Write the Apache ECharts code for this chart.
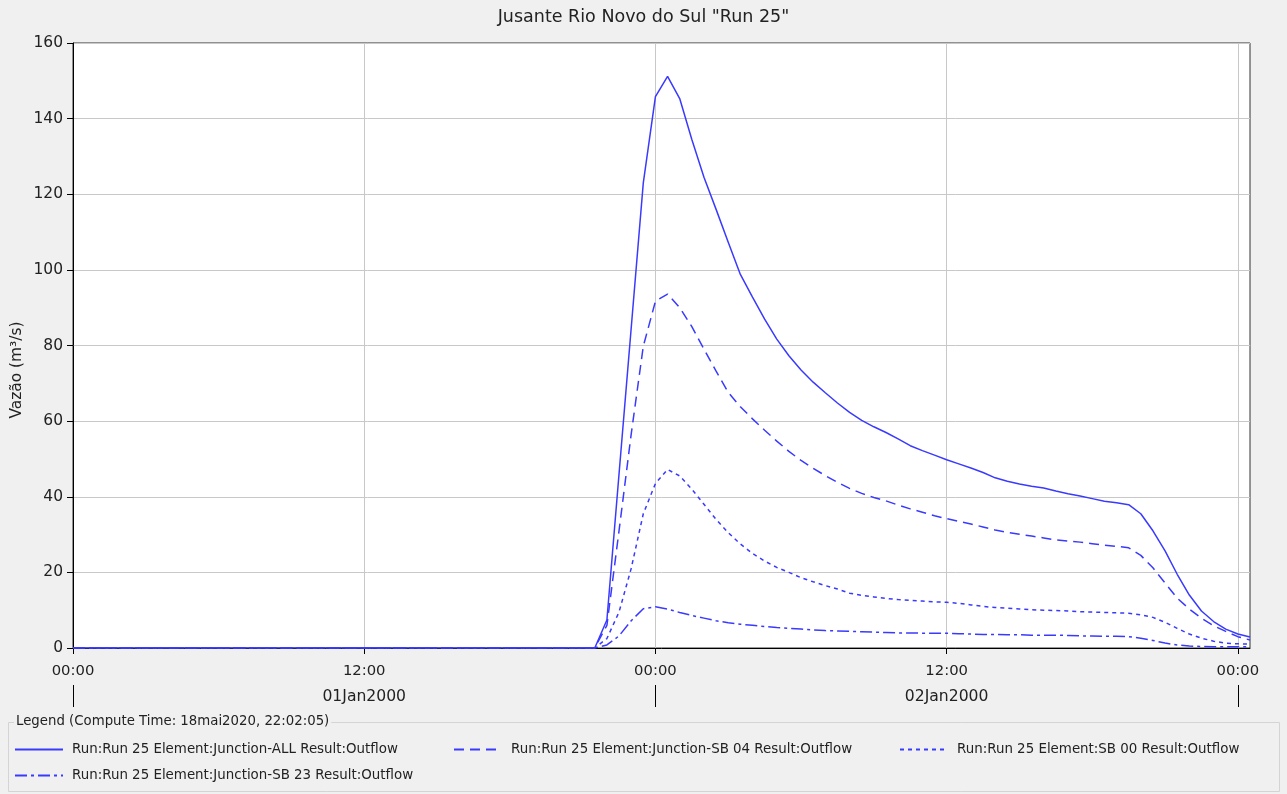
<!DOCTYPE html>
<html>
<head>
<meta charset="utf-8">
<script src="https://cdn.jsdelivr.net/npm/echarts@6.0.0/dist/echarts.min.js"></script>
<style>
  html, body { margin: 0; padding: 0; background: #f0f0f0; }
  #chart { width: 1287px; height: 794px; }
</style>
</head>
<body>
<div id="chart"></div>
<script>
// hours since 01Jan2000 00:00
const hours = [0, 21.5,
  22, 22.5, 23, 23.5, 24, 24.5, 25, 25.5, 26, 26.5, 27, 27.5,
  28, 28.5, 29, 29.5, 30, 30.5, 31, 31.5, 32, 32.5, 33, 33.5,
  34, 34.5, 35, 35.5, 36, 36.5, 37, 37.5, 38, 38.5, 39, 39.5,
  40, 40.5, 41, 41.5, 42, 42.5, 43, 43.5, 44, 44.5, 45, 45.5,
  46, 46.5, 47, 47.5, 48, 48.5]

const junctionAll = [0, 0,
  7.4, 46, 84.5, 123, 145.8, 151.2, 145.3, 134.5, 124.5, 116, 107.3, 98.8,
  92.8, 87, 81.7, 77.3, 73.5, 70.3, 67.5, 64.8, 62.3, 60.2, 58.5, 57,
  55.3, 53.5, 52.2, 51, 49.8, 48.7, 47.6, 46.4, 45.0, 44.1, 43.4, 42.8,
  42.3, 41.5, 40.8, 40.2, 39.5, 38.8, 38.4, 37.9, 35.5, 31, 25.7, 19.5,
  14, 9.8, 7.0, 5.0, 3.7, 2.9]

const junctionSB04 = [0, 0,
  6, 31, 56.5, 79.8, 91.7, 93.6, 90, 85, 79, 73.2, 67.6, 63.8,
  60.6, 57.6, 54.7, 52, 49.6, 47.5, 45.6, 43.8, 42.2, 40.9, 39.8, 38.9,
  37.8, 36.8, 35.9, 35, 34.2, 33.5, 32.8, 32.0, 31.2, 30.6, 30.1, 29.6,
  29.1, 28.6, 28.3, 28.0, 27.6, 27.2, 26.9, 26.5, 24.5, 21.2, 17.2, 13.2,
  10.3, 7.9, 5.9, 4.4, 3.0, 2.1]

const sb00 = [0, 0,
  2.5, 9.5, 21, 35.5, 43.5, 47.2, 45.5, 42, 38, 34, 30.5, 27.5,
  25, 23, 21.3, 20, 18.6, 17.5, 16.5, 15.6, 14.5, 13.9, 13.5, 13.1,
  12.8, 12.6, 12.4, 12.2, 12.1, 11.8, 11.4, 11.0, 10.7, 10.5, 10.3, 10.1,
  10.0, 9.9, 9.8, 9.6, 9.5, 9.4, 9.3, 9.2, 8.8, 8.1, 6.8, 5.2,
  3.7, 2.6, 1.8, 1.3, 1.1, 1.0]

const junctionSB23 = [0, 0,
  0.8, 3.2, 7.2, 10.4, 10.9, 10.3, 9.4, 8.6, 7.9, 7.2, 6.7, 6.3,
  6.0, 5.7, 5.4, 5.2, 5.0, 4.8, 4.6, 4.5, 4.4, 4.3, 4.2, 4.1,
  4.0, 4.0, 3.9, 3.9, 3.9, 3.8, 3.7, 3.6, 3.6, 3.5, 3.5, 3.4,
  3.4, 3.4, 3.3, 3.2, 3.2, 3.1, 3.1, 3.0, 2.6, 2.0, 1.3, 0.8,
  0.5, 0.4, 0.3, 0.3, 0.3, 0.3]

const seriesNames = [
  'Run:Run 25 Element:Junction-ALL Result:Outflow',
  'Run:Run 25 Element:Junction-SB 04 Result:Outflow',
  'Run:Run 25 Element:SB 00 Result:Outflow',
  'Run:Run 25 Element:Junction-SB 23 Result:Outflow'
]
const hourTicks = [0, 12, 24, 36, 48]
const hourLabels = ['00:00', '12:00', '00:00', '12:00', '00:00']
const dayTicks = [0, 24, 48]
const dateTicks = [12, 36]
const dateLabels = ['01Jan2000', '02Jan2000']

const BLUE = '#3a3aff'
const FONT = 'DejaVu Sans'
const pairs = (vals) => hours.map((h, i) => [h, vals[i]])

const chart = echarts.init(document.getElementById('chart'))

function lineSeries(name, vals, type) {
  return {
    name,
    type: 'line',
    data: pairs(vals),
    symbol: 'none',
    smooth: false,
    lineStyle: { color: BLUE, width: 1.5, type },
    itemStyle: { color: BLUE },
    z: 3
  }
}

function legendAt(name, left, top) {
  return {
    data: [name],
    left,
    top,
    padding: 0,
    itemWidth: 48,
    itemHeight: 14,
    selectedMode: false,
    itemStyle: { opacity: 0 },
    textStyle: { fontFamily: FONT, fontSize: 13.4, color: '#222', padding: [0, 0, 0, 4] }
  }
}

chart.setOption({
  backgroundColor: '#f0f0f0',
  animation: false,
  title: {
    text: 'Jusante Rio Novo do Sul "Run 25"',
    left: 'center',
    top: 8,
    padding: 0,
    textStyle: { fontFamily: FONT, fontSize: 17.5, fontWeight: 'normal', color: '#222' }
  },
  grid: {
    left: 73, right: 37, top: 43, bottom: 146,
    show: true, backgroundColor: '#fff', borderColor: '#333', borderWidth: 1
  },
  legend: [
    legendAt(seriesNames[0], 14, 743),
    legendAt(seriesNames[1], 453, 743),
    legendAt(seriesNames[2], 899, 743),
    legendAt(seriesNames[3], 14, 769)
  ],
  xAxis: [
    {
      type: 'value', min: 0, max: 48.5, interval: 12,
      axisLine: { show: true, onZero: false, lineStyle: { color: '#000' } },
      axisTick: { show: true, length: 6, customValues: hourTicks, lineStyle: { color: '#000' } },
      axisLabel: {
        customValues: hourTicks,
        margin: 16,
        fontFamily: FONT, fontSize: 14.8, color: '#222',
        formatter: (v) => hourLabels[hourTicks.indexOf(v)] || ''
      },
      splitLine: { show: true, lineStyle: { color: '#c8c8c8', width: 1 } }
    },
    {
      type: 'value', min: 0, max: 48.5, position: 'bottom', offset: 37,
      axisLine: { show: true, onZero: false, lineStyle: { color: '#f0f0f0', opacity: 0 } },
      axisTick: { show: true, inside: false, length: 22, customValues: dayTicks, lineStyle: { color: '#000', width: 1 } },
      axisLabel: {
        customValues: dateTicks,
        margin: 4,
        fontFamily: FONT, fontSize: 15.6, color: '#222',
        formatter: (v) => dateLabels[dateTicks.indexOf(v)] || ''
      },
      splitLine: { show: false }
    }
  ],
  yAxis: {
    type: 'value', min: 0, max: 160, interval: 20,
    axisLine: { show: true, lineStyle: { color: '#000' } },
    axisTick: { show: true, length: 6, lineStyle: { color: '#000' } },
    axisLabel: { margin: 10, fontFamily: FONT, fontSize: 15.5, color: '#222' },
    splitLine: { show: true, lineStyle: { color: '#c8c8c8', width: 1 } }
  },
  graphic: [
    {
      type: 'text', x: 17, y: 370, rotation: Math.PI / 2,
      style: {
        text: 'Vazão (m³/s)', fontFamily: FONT, fontSize: 15.4, fill: '#222',
        align: 'center', verticalAlign: 'middle'
      }
    },
    {
      type: 'rect', shape: { x: 8.5, y: 722.5, width: 1271, height: 69 },
      style: { fill: 'none', stroke: '#d4d4d4', lineWidth: 1 }, z: -1
    },
    {
      type: 'text', x: 14, y: 722,
      style: {
        text: 'Legend (Compute Time: 18mai2020, 22:02:05)', fontFamily: FONT, fontSize: 13.3,
        fill: '#222', verticalAlign: 'middle', backgroundColor: '#f0f0f0', padding: [0, 2]
      }
    }
  ],
  series: [
    lineSeries(seriesNames[0], junctionAll, 'solid'),
    lineSeries(seriesNames[1], junctionSB04, [10, 6]),
    lineSeries(seriesNames[2], sb00, [4, 4]),
    lineSeries(seriesNames[3], junctionSB23, [12, 4, 3, 4])
  ]
})
</script>
</body>
</html>
